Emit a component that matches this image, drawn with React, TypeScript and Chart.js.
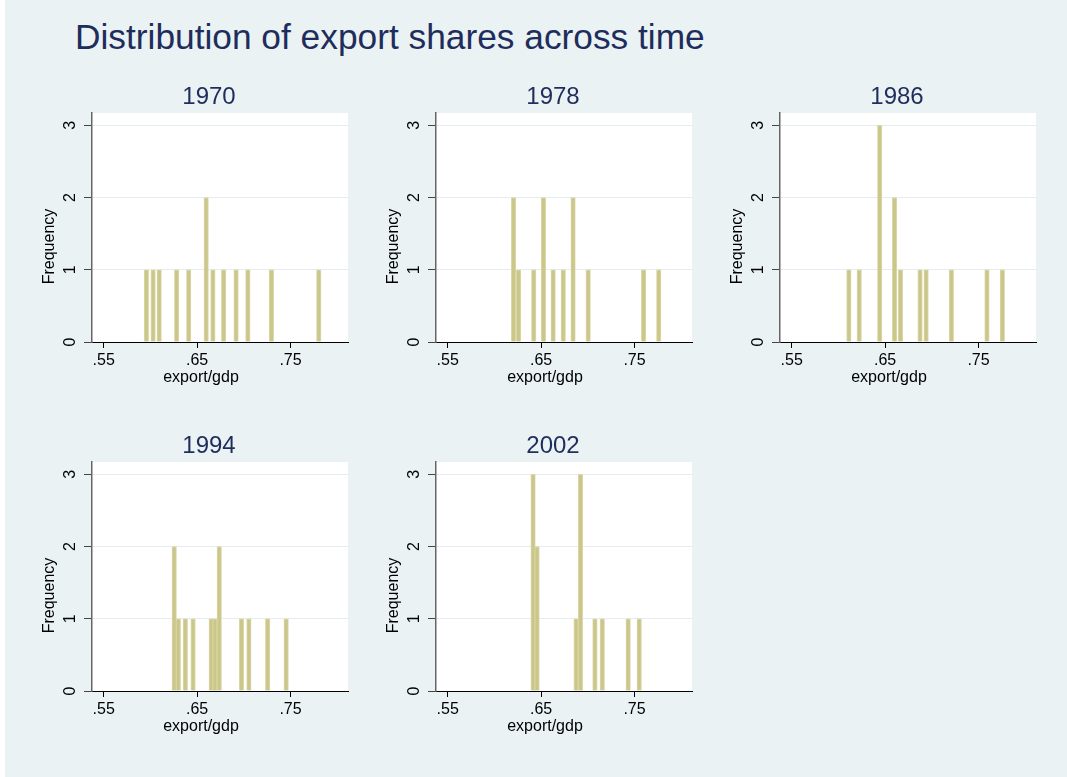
import React, { useEffect, useRef } from "react";
import { Chart, registerables } from "chart.js";

Chart.register(...registerables);
Chart.defaults.font.family = '"Liberation Sans", Arial, sans-serif';

const mainTitle = "Distribution of export shares across time";
const xTicks = [0.55, 0.65, 0.75];
const yTicks = [0, 1, 2, 3];
const xLabel = "export/gdp";
const yLabel = "Frequency";

const years = ["1970", "1978", "1986", "1994", "2002"];

const bins1970 = [0.5957, 0.6029, 0.6094, 0.6281, 0.641, 0.6597, 0.6669, 0.6784, 0.6917, 0.7043, 0.7295, 0.7802];
const freq1970 = [1, 1, 1, 1, 1, 2, 1, 1, 1, 1, 1, 1];

const bins1978 = [0.6205, 0.6259, 0.6421, 0.6525, 0.6629, 0.6737, 0.6842, 0.7004, 0.7597, 0.7759];
const freq1978 = [2, 1, 1, 2, 1, 1, 2, 1, 1, 1];

const bins1986 = [0.6112, 0.6223, 0.6442, 0.6601, 0.6665, 0.6874, 0.6939, 0.7209, 0.759, 0.7755];
const freq1986 = [1, 1, 3, 2, 1, 1, 1, 1, 1, 1];

const bins1994 = [0.6255, 0.6299, 0.6374, 0.6457, 0.6651, 0.6691, 0.6737, 0.6975, 0.7054, 0.7255, 0.7453];
const freq1994 = [2, 1, 1, 1, 1, 1, 2, 1, 1, 1, 1];

const bins2002 = [0.6414, 0.6457, 0.6874, 0.6921, 0.7076, 0.7155, 0.7432, 0.755];
const freq2002 = [3, 2, 1, 3, 1, 1, 1, 1];

const panelBins = [bins1970, bins1978, bins1986, bins1994, bins2002];
const panelFreq = [freq1970, freq1978, freq1986, freq1994, freq2002];

const NAVY = "#1e2d5c";
const BG = "#eaf2f3";
const FONT = '"Liberation Sans", Arial, sans-serif';

const CANVAS_W = 336;
const CANVAS_H = 329;

function Panel({ title, bins, freq, left, top }: { title: string; bins: number[]; freq: number[]; left: number; top: number }) {
  const ref = useRef<HTMLCanvasElement | null>(null);
  useEffect(() => {
    if (!ref.current) return;
    const decorPlugin = {
      id: "panelDecor",
      beforeDraw(chart: any) {
        const { ctx, chartArea } = chart;
        ctx.save();
        ctx.fillStyle = "#ffffff";
        ctx.fillRect(chartArea.left, chartArea.top, chartArea.right - chartArea.left, chartArea.bottom - chartArea.top);
        ctx.restore();
      },
      afterDraw(chart: any) {
        const { ctx, chartArea } = chart;
        const cx = (chartArea.left + chartArea.right) / 2;
        const cy = (chartArea.top + chartArea.bottom) / 2;
        ctx.save();
        ctx.font = `24px ${FONT}`;
        ctx.fillStyle = NAVY;
        ctx.textAlign = "center";
        ctx.textBaseline = "alphabetic";
        ctx.fillText(title, cx - 11, chartArea.top - 9.5);
        ctx.font = `16px ${FONT}`;
        ctx.fillStyle = "#000";
        ctx.textBaseline = "middle";
        ctx.fillText(xLabel, cx - 19, chartArea.bottom + 35.5);
        ctx.translate(chartArea.left - 42, cy + 19);
        ctx.rotate(-Math.PI / 2);
        ctx.fillText(yLabel, 0, 0);
        ctx.restore();
      },
    };
    const chart = new Chart(ref.current, {
      type: "bar",
      data: {
        datasets: [
          {
            data: bins.map((x, i) => ({ x, y: freq[i] })),
            backgroundColor: "#cbc68a",
            borderColor: "#dcd8a8",
            borderWidth: 1,
            barThickness: 4.5,
          } as any,
        ],
      },
      options: {
        animation: false,
        responsive: false,
        maintainAspectRatio: false,
        layout: { padding: { left: 18, top: 40, right: 10, bottom: 15 } },
        plugins: { legend: { display: false }, tooltip: { enabled: false }, title: { display: false } },
        scales: {
          x: {
            type: "linear",
            min: 0.5375,
            max: 0.8115,
            offset: false,
            afterBuildTicks: (s: any) => {
              s.ticks = xTicks.map((v) => ({ value: v }));
            },
            afterFit: (s: any) => {
              s.height = 45;
            },
            ticks: {
              callback: (v: any) => String(v).replace(/^0/, ""),
              font: { size: 16 },
              color: "#000",
              padding: 3,
              maxRotation: 0,
              autoSkip: false,
            },
            grid: { drawOnChartArea: false, drawTicks: true, tickLength: 6, tickColor: "#000", offset: false },
            border: { color: "#000", width: 1 },
            title: { display: false },
          },
          y: {
            min: 0,
            max: 3.17,
            afterBuildTicks: (s: any) => {
              s.ticks = yTicks.map((v) => ({ value: v }));
            },
            afterFit: (s: any) => {
              s.width = 52;
            },
            ticks: {
              minRotation: 90,
              maxRotation: 90,
              crossAlign: "center",
              padding: 9,
              font: { size: 16 },
              color: "#000",
              callback: (v: any) => String(v),
            },
            grid: { color: "#e3edf0", tickColor: "#444", tickLength: 8, lineWidth: 1 },
            border: { color: "#666", width: 1.5 },
            title: { display: false },
          },
        },
      } as any,
      plugins: [decorPlugin],
    });
    return () => chart.destroy();
  }, [title, bins, freq]);
  return (
    <canvas
      ref={ref}
      width={CANVAS_W}
      height={CANVAS_H}
      style={{ position: "absolute", left, top, width: CANVAS_W, height: CANVAS_H }}
    />
  );
}

const colLefts = [22, 366, 710];
const rowTops = [73, 422];

export default function App() {
  return (
    <div style={{ position: "fixed", left: 0, top: 0, width: 1067, height: 777, background: "#ffffff", overflow: "hidden" }}>
      <div style={{ position: "absolute", left: 5, top: 0, right: 0, bottom: 0, background: BG }} />
      <div
        style={{
          position: "absolute",
          left: 75,
          top: 17,
          fontFamily: FONT,
          fontSize: 35.3,
          lineHeight: "40px",
          color: NAVY,
          whiteSpace: "nowrap",
        }}
      >
        {mainTitle}
      </div>
      {years.map((yr, i) => (
        <Panel
          key={yr}
          title={yr}
          bins={panelBins[i]}
          freq={panelFreq[i]}
          left={colLefts[i % 3]}
          top={rowTops[Math.floor(i / 3)]}
        />
      ))}
    </div>
  );
}
